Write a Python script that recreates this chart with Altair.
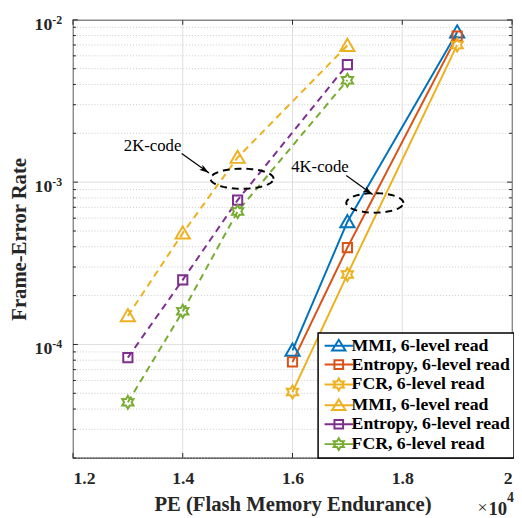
import math
import altair as alt
import pandas as pd

# ---------------- data ----------------
pe_2k = [13000, 14000, 15000, 17000]
pe_4k = [16000, 17000, 19000]

fer_mmi_4k = [9.2e-5, 5.7e-4, 8.4e-3]
fer_entropy_4k = [7.8e-5, 3.95e-4, 7.95e-3]
fer_fcr_4k = [5.1e-5, 2.7e-4, 7.0e-3]
fer_mmi_2k = [1.5e-4, 4.85e-4, 1.42e-3, 6.95e-3]
fer_entropy_2k = [8.3e-5, 2.5e-4, 7.75e-4, 5.3e-3]
fer_fcr_2k = [4.4e-5, 1.6e-4, 6.6e-4, 4.25e-3]

series_labels = ["MMI, 6-level read", "Entropy, 6-level read", "FCR, 6-level read",
                 "MMI, 6-level read", "Entropy, 6-level read", "FCR, 6-level read"]
series_keys = ["0", "1", "2", "3", "4", "5"]
series_code = ["4K", "4K", "4K", "2K", "2K", "2K"]
series_x = [pe_4k, pe_4k, pe_4k, pe_2k, pe_2k, pe_2k]
series_y = [fer_mmi_4k, fer_entropy_4k, fer_fcr_4k, fer_mmi_2k, fer_entropy_2k, fer_fcr_2k]
series_marker = ["tri", "sq", "hex", "tri", "sq", "hex"]
colors = ["#0072BD", "#D95319", "#EDB120", "#EDB120", "#7E2F8E", "#77AC30"]

x_ticks = [12000, 14000, 16000, 18000, 20000]
y_major = [1e-4, 1e-3, 1e-2]
y_major_exp = ["-4", "-3", "-2"]
y_minor = [k * 10.0 ** e for e in (-5, -4, -3) for k in range(2, 10)]
y_minor = [v for v in y_minor if v >= 2e-5]

X_DOM = [12000, 20000]
Y_DOM = [2e-5, 1e-2]

# annotations
ann_text = ["2K-code", "4K-code"]
ann_text_x = [13450, 16500]
ann_text_y = [1.68e-3, 1.23e-3]
arrow_x0 = [13980, 16980]
arrow_y0 = [1.50e-3, 1.10e-3]
arrow_x1 = [14480, 17460]
arrow_y1 = [1.14e-3, 8.4e-4]
ell_cx = [15080, 17500]
ell_cy = [1.05e-3, 7.45e-4]
ell_rx = [575, 520]
ell_ry = [0.062, 0.060]

FONT = "Liberation Serif"
AXC = "#262626"

# ---------------- marker shapes ----------------
def hexagram(r_out, r_in):
    pts = []
    for i in range(12):
        a = math.pi / 2 + i * math.pi / 6
        r = r_out if i % 2 == 0 else r_in
        pts.append((r * math.cos(a), -r * math.sin(a)))
    return "M" + "L".join(f"{x:.3f},{y:.3f}" for x, y in pts) + "Z"

# plot markers (size 144 -> 1 unit = 6px)
mk_paths = {
    "tri": "M0,-1.15L1.2,0.92L-1.2,0.92Z",
    "sq": "M-0.78,-0.78L0.78,-0.78L0.78,0.78L-0.78,0.78Z",
    "hex": hexagram(1.1, 0.63),
}
# legend symbols (size 64 -> 1 unit = 4px): line + marker
lg_paths = {
    "tri": "M-3.6,0L3.6,0M0,-1.5L1.7,1.2L-1.7,1.2Z",
    "sq": "M-3.6,0L3.6,0M-1.1,-1.1L1.1,-1.1L1.1,1.1L-1.1,1.1Z",
    "hex": "M-3.6,0L3.6,0" + hexagram(1.5, 0.85),
}

rows = []
for k, c, xs_, ys_ in zip(series_keys, series_code, series_x, series_y):
    for xv, yv in zip(xs_, ys_):
        rows.append({"key": k, "code": c, "pe": xv, "fer": yv})
df = pd.DataFrame(rows)

xs = alt.Scale(domain=X_DOM, nice=False, zero=False)
ys = alt.Scale(type="log", domain=Y_DOM, nice=False)

color_scale = alt.Scale(domain=series_keys, range=colors)
mk_scale = alt.Scale(domain=series_keys, range=[mk_paths[m] for m in series_marker])
lg_scale = alt.Scale(domain=series_keys, range=[lg_paths[m] for m in series_marker])
dash_scale = alt.Scale(domain=["4K", "2K"], range=[[1, 0], [7, 5]])

x_enc = alt.X("pe:Q", scale=xs, axis=alt.Axis(
    values=x_ticks, grid=False, ticks=False, domain=False,
    labelExpr="'' + datum.value / 10000",
    labelFont=FONT, labelFontSize=18, labelFontWeight="bold", labelColor=AXC,
    labelPadding=12, title="PE (Flash Memory Endurance)", titleFont=FONT,
    titleFontSize=21, titleFontWeight="bold", titleColor=AXC, titlePadding=6))
y_enc = alt.Y("fer:Q", scale=ys, axis=alt.Axis(
    values=y_major, grid=False, ticks=False, domain=False, labels=False,
    title="Frame-Error Rate", titleFont=FONT, titleFontSize=21,
    titleFontWeight="bold", titleColor=AXC, titlePadding=44))

# ---------------- grid ----------------
df_ymin = pd.DataFrame({"v": y_minor})
df_ymaj = pd.DataFrame({"v": y_major})
df_yexp = pd.DataFrame({"v": y_major, "e": y_major_exp})
df_xt = pd.DataFrame({"v": x_ticks})

minor_grid = alt.Chart(df_ymin).mark_rule(color="#c8c8c8", strokeDash=[1, 2], strokeWidth=1).encode(
    y=alt.Y("v:Q", scale=ys))
major_grid = alt.Chart(df_ymaj).mark_rule(color="#dedede", strokeWidth=1).encode(
    y=alt.Y("v:Q", scale=ys))
x_grid = alt.Chart(df_xt).mark_rule(color="#dedede", strokeWidth=1).encode(
    x=alt.X("v:Q", scale=xs))

# inward ticks
tk_min_l = alt.Chart(df_ymin).mark_rule(color=AXC, strokeWidth=1).encode(
    y=alt.Y("v:Q", scale=ys), x=alt.value(0), x2=alt.value(3))
tk_min_r = alt.Chart(df_ymin).mark_rule(color=AXC, strokeWidth=1).encode(
    y=alt.Y("v:Q", scale=ys), x=alt.value(443), x2=alt.value(446))
tk_maj_l = alt.Chart(df_ymaj).mark_rule(color=AXC, strokeWidth=1).encode(
    y=alt.Y("v:Q", scale=ys), x=alt.value(0), x2=alt.value(5))
tk_maj_r = alt.Chart(df_ymaj).mark_rule(color=AXC, strokeWidth=1).encode(
    y=alt.Y("v:Q", scale=ys), x=alt.value(441), x2=alt.value(446))
tk_x_b = alt.Chart(df_xt).mark_rule(color=AXC, strokeWidth=1).encode(
    x=alt.X("v:Q", scale=xs), y=alt.value(445), y2=alt.value(440))
tk_x_t = alt.Chart(df_xt).mark_rule(color=AXC, strokeWidth=1).encode(
    x=alt.X("v:Q", scale=xs), y=alt.value(0), y2=alt.value(5))

# y tick labels 10^e
ylab_base = alt.Chart(df_yexp).mark_text(
    text="10", font=FONT, fontSize=18, fontWeight="bold", color=AXC,
    align="right", baseline="middle", dy=5).encode(
    y=alt.Y("v:Q", scale=ys), x=alt.value(-21))
ylab_exp = alt.Chart(df_yexp).mark_text(
    font=FONT, fontSize=12, fontWeight="bold", color=AXC,
    align="left", baseline="middle", dy=0).encode(
    y=alt.Y("v:Q", scale=ys), x=alt.value(-21), text="e:N")

# ---------------- series ----------------
lines = alt.Chart(df).mark_line(strokeWidth=2, clip=True).encode(
    x=x_enc, y=y_enc,
    color=alt.Color("key:N", scale=color_scale, legend=None),
    strokeDash=alt.StrokeDash("code:N", scale=dash_scale, legend=None),
    detail="key:N")
points = alt.Chart(df).mark_point(filled=False, size=144, strokeWidth=2, opacity=1, clip=True).encode(
    x=alt.X("pe:Q", scale=xs), y=alt.Y("fer:Q", scale=ys),
    color=alt.Color("key:N", scale=color_scale, legend=None),
    shape=alt.Shape("key:N", scale=mk_scale, legend=None))

label_expr = "[" + ",".join("'" + s + "'" for s in series_labels) + "][toNumber(datum.label)]"
leg = alt.Legend(
    title=None, orient="none", legendX=249, legendY=318,
    labelExpr=label_expr, labelFont=FONT, labelFontSize=18, labelFontWeight="bold",
    labelColor="black", labelLimit=400, symbolSize=64, symbolStrokeWidth=2,
    symbolOffset=8, labelOffset=4, rowPadding=1.2, padding=4,
    fillColor="white", strokeColor="black")
df_leg = pd.DataFrame({"key": series_keys})
legend_layer = alt.Chart(df_leg).mark_point(filled=False, size=64, strokeWidth=2, opacity=1, clip=True).encode(
    x=alt.value(-500), y=alt.value(-500),
    color=alt.Color("key:N", scale=color_scale, legend=leg),
    shape=alt.Shape("key:N", scale=lg_scale, legend=leg))

# ---------------- annotations ----------------
ell_rows = []
for i in range(len(ell_cx)):
    n = 60
    for j in range(n + 1):
        t = 2 * math.pi * j / n
        ell_rows.append({"id": i, "o": j,
                         "x": ell_cx[i] + ell_rx[i] * math.cos(t),
                         "y": 10 ** (math.log10(ell_cy[i]) + ell_ry[i] * math.sin(t))})
df_ell = pd.DataFrame(ell_rows)
ellipses = alt.Chart(df_ell).mark_line(color="black", strokeWidth=2, strokeDash=[7, 5]).encode(
    x=alt.X("x:Q", scale=xs), y=alt.Y("y:Q", scale=ys), detail="id:N", order="o:Q")

df_arr = pd.DataFrame({"x0": arrow_x0, "y0": arrow_y0, "x1": arrow_x1, "y1": arrow_y1})
arrows = alt.Chart(df_arr).mark_rule(color="black", strokeWidth=1.2).encode(
    x=alt.X("x0:Q", scale=xs), y=alt.Y("y0:Q", scale=ys), x2="x1:Q", y2="y1:Q")
heads = alt.Chart(df_arr).mark_point(
    shape="M0,0L1,3.4L0,2.6L-1,3.4Z", filled=True, size=36, color="black",
    opacity=1, angle=124).encode(
    x=alt.X("x1:Q", scale=xs), y=alt.Y("y1:Q", scale=ys))

df_txt = pd.DataFrame({"t": ann_text, "x": ann_text_x, "y": ann_text_y})
texts = alt.Chart(df_txt).mark_text(font=FONT, fontSize=17, color="black").encode(
    x=alt.X("x:Q", scale=xs), y=alt.Y("y:Q", scale=ys), text="t:N")

# x10^4 multiplier
one = df_leg.head(1)
mult_x = alt.Chart(one).mark_text(
    text="\u00d7", font=FONT, fontSize=18, color=AXC, align="right", baseline="middle").encode(
    x=alt.value(421), y=alt.value(496))
mult_10 = alt.Chart(one).mark_text(
    text="10", font=FONT, fontSize=19, fontWeight="bold", color=AXC, align="right", baseline="middle").encode(
    x=alt.value(441), y=alt.value(497))
mult_4 = alt.Chart(one).mark_text(
    text="4", font=FONT, fontSize=14, fontWeight="bold", color=AXC, align="left", baseline="middle").encode(
    x=alt.value(441), y=alt.value(486))

chart = alt.layer(
    minor_grid, major_grid, x_grid,
    tk_min_l, tk_min_r, tk_maj_l, tk_maj_r, tk_x_b, tk_x_t,
    lines, points, ellipses, arrows, heads, texts,
    ylab_base, ylab_exp, mult_x, mult_10, mult_4,
    legend_layer,
).resolve_scale(shape="independent", color="independent").properties(
    width=446, height=445,
    autosize=alt.AutoSizeParams(type="none"),
    padding={"left": 66, "top": 8, "right": 2, "bottom": 57},
).configure_view(stroke=AXC, strokeWidth=1.2).configure_legend(strokeWidth=1.5)

chart.save("out.html", embed_options={"renderer": "svg", "actions": False})
